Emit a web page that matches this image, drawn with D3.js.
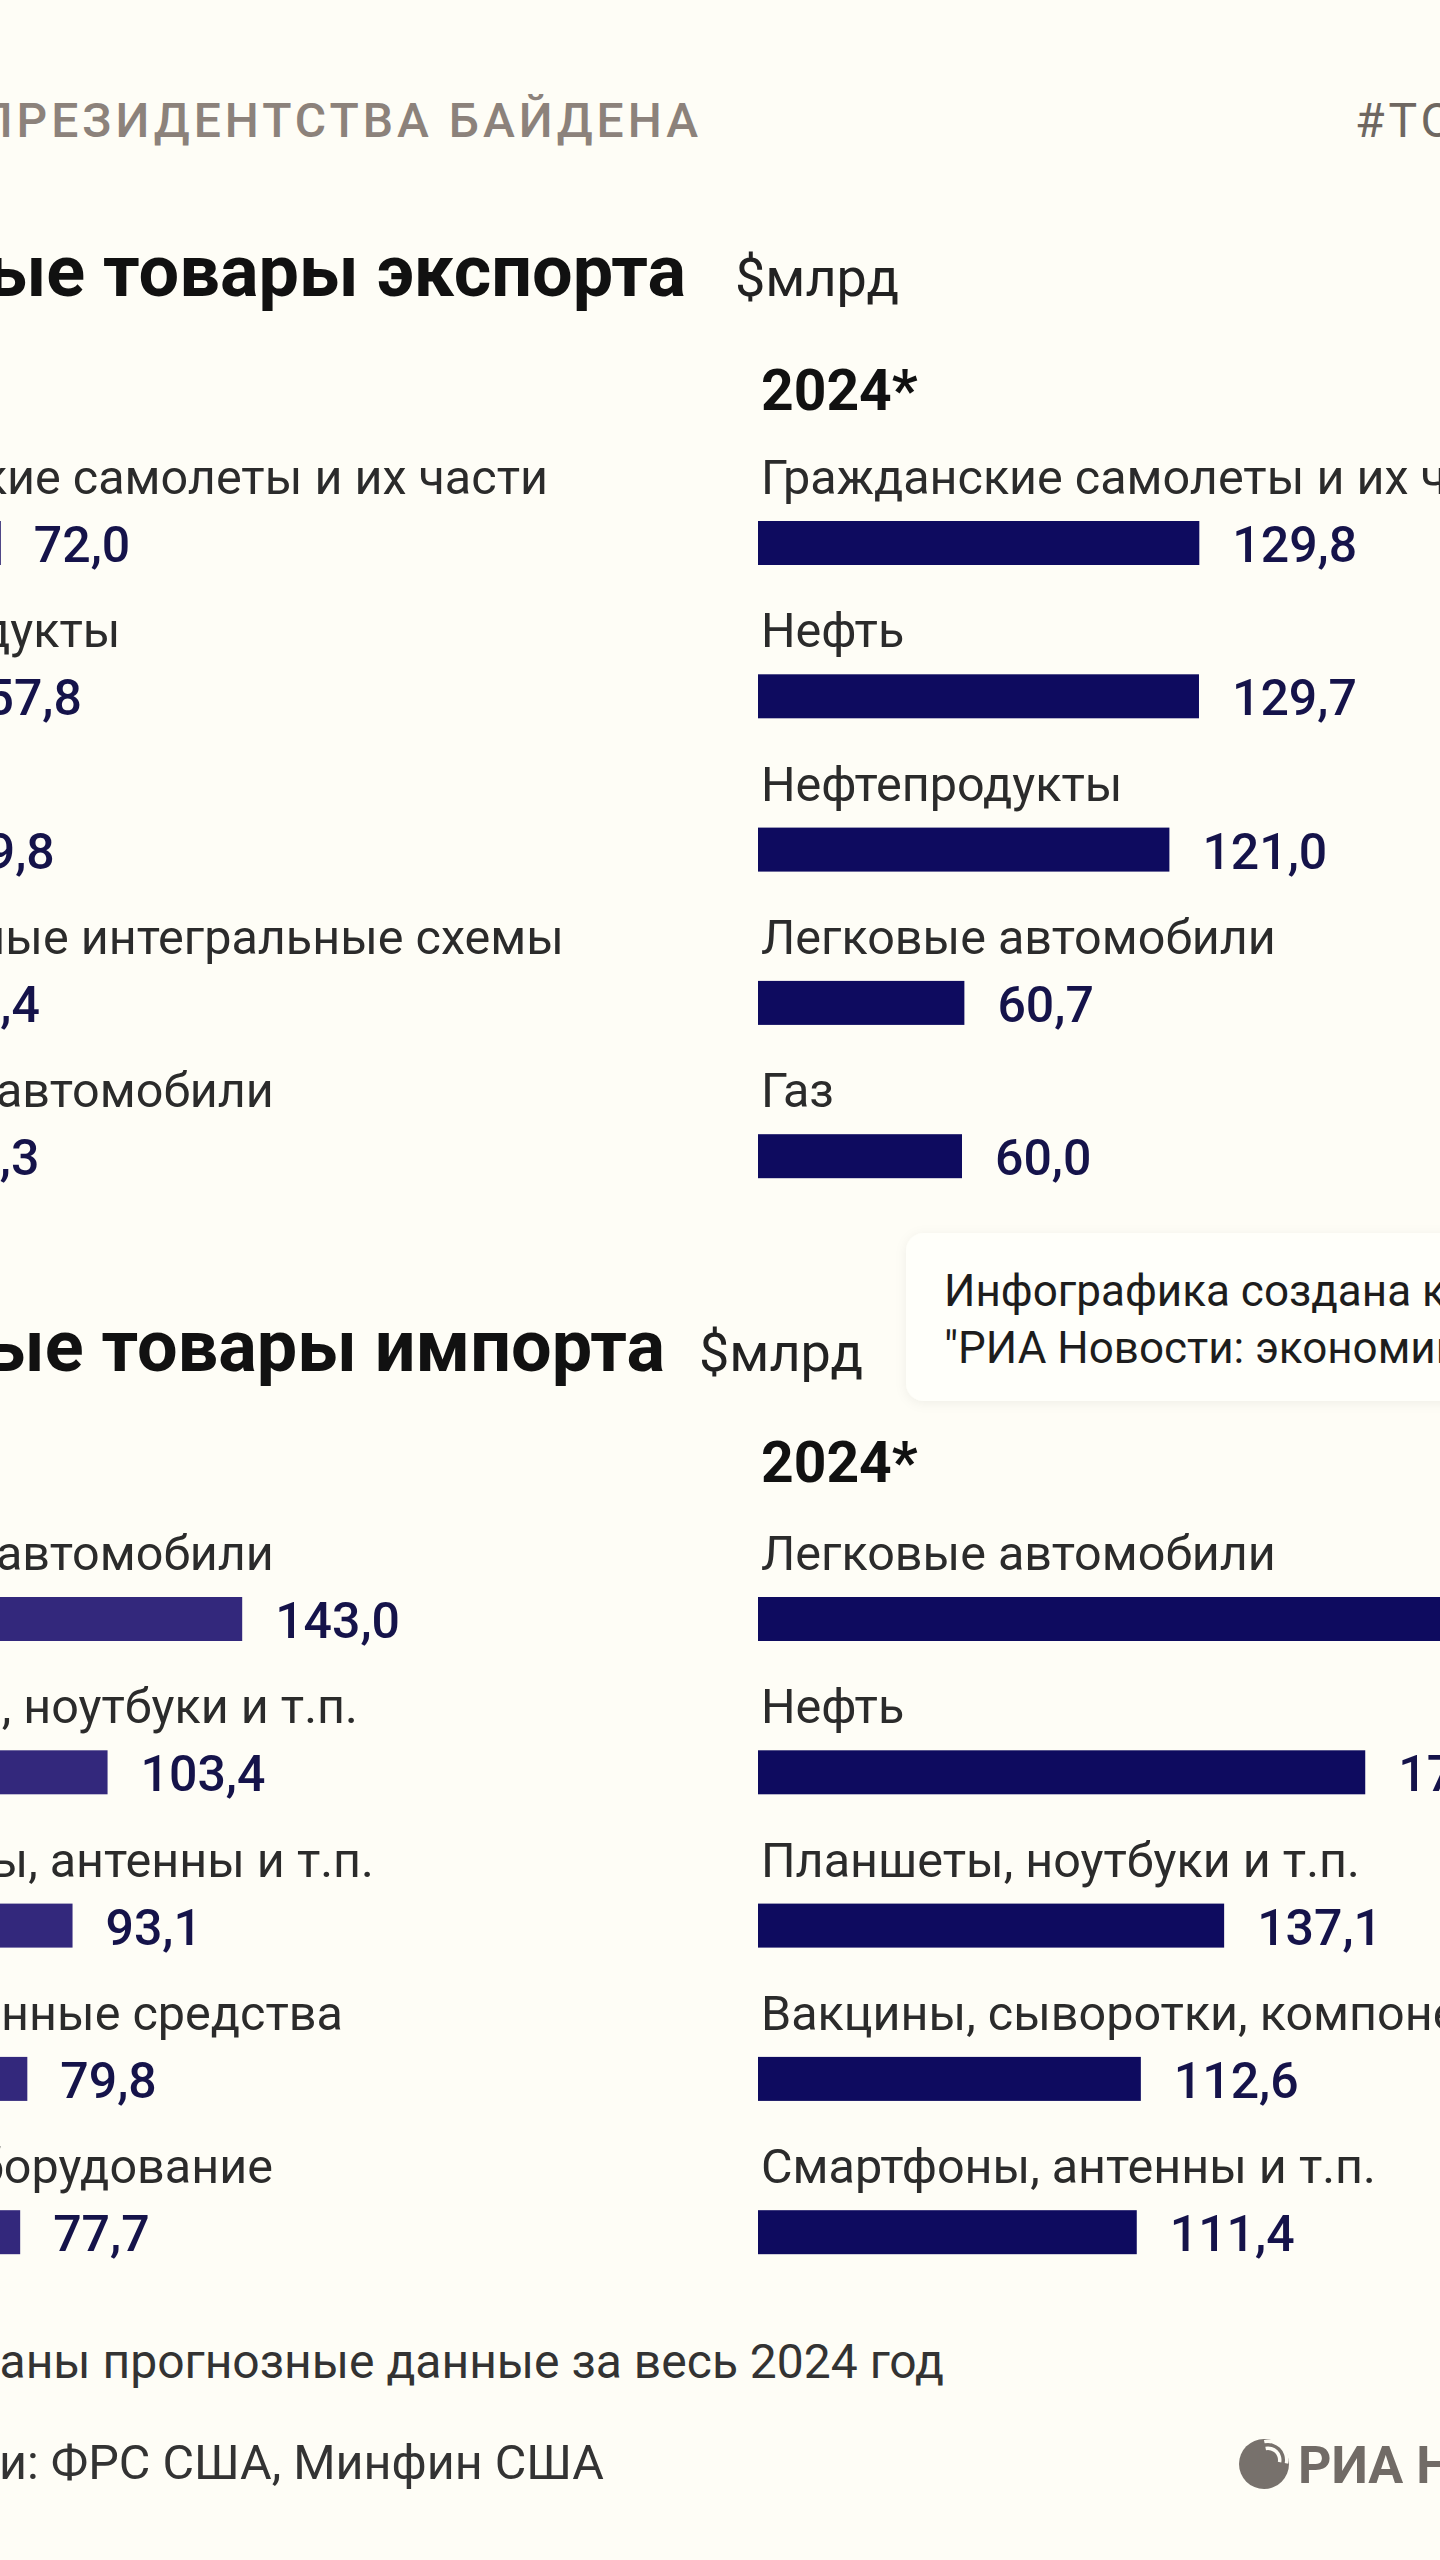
<!DOCTYPE html>
<html>
<head>
<meta charset="utf-8">
<script src="https://cdn.jsdelivr.net/npm/d3@7"></script>
<style>
  html, body { margin: 0; padding: 0; background: #fefdf6; }
  svg { display: block; font-family: Roboto, "Noto Sans", sans-serif; }
</style>
</head>
<body>
<div id="chart"></div>
<script>
// data ($ bn)
var years = ["2020", "2024*"];

var exportLabelsOld = ["Гражданские самолеты и их части", "Нефтепродукты", "Нефть", "Электронные интегральные схемы", "Легковые автомобили"];
var exportValuesOld = [72.0, 57.8, 49.8, 45.4, 45.3];
var exportLabelsNew = ["Гражданские самолеты и их части", "Нефть", "Нефтепродукты", "Легковые автомобили", "Газ"];
var exportValuesNew = [129.8, 129.7, 121.0, 60.7, 60.0];

var importLabelsOld = ["Легковые автомобили", "Планшеты, ноутбуки и т.п.", "Смартфоны, антенны и т.п.", "Лекарственные средства", "Электрооборудование"];
var importValuesOld = [143.0, 103.4, 93.1, 79.8, 77.7];
var importLabelsNew = ["Легковые автомобили", "Нефть", "Планшеты, ноутбуки и т.п.", "Вакцины, сыворотки, компоненты крови", "Смартфоны, антенны и т.п."];
var importValuesNew = [214.6, 178.6, 137.1, 112.6, 111.4];

var W = 1440, H = 2560;
var svg = d3.select("#chart").append("svg").attr("width", W).attr("height", H);
svg.append("rect").attr("width", W).attr("height", H).attr("fill", "#fefdf6");

var fmt = function(v) { return d3.format(".1f")(v).replace(".", ","); };

// columns: old year starts off the left edge
var colX = [-244, 758];
var x = d3.scaleLinear().domain([0, 100]).range([0, 340]);
var barH = 44;

// header
svg.append("text").attr("x", 702).attr("y", 137).attr("text-anchor", "end")
  .attr("font-size", 48).attr("font-weight", 500).attr("letter-spacing", 4)
  .attr("fill", "#8c827b").text("ИТОГИ ПРЕЗИДЕНТСТВА БАЙДЕНА");
svg.append("text").attr("x", 1355).attr("y", 137)
  .attr("font-size", 48).attr("font-weight", 400).attr("letter-spacing", 4)
  .attr("fill", "#6e6761").text("#ТОРГОВЛЯ");

function section(title, titleEnd, titleY, unitX, yearY, rowTop, data) {
  svg.append("text").attr("x", titleEnd).attr("y", titleY).attr("text-anchor", "end")
    .attr("font-size", 72).attr("font-weight", 700).attr("fill", "#111")
    .text(title);
  svg.append("text").attr("x", unitX).attr("y", titleY)
    .attr("font-size", 54).attr("fill", "#222").text("$млрд");

  data.forEach(function(col, ci) {
    var g = svg.append("g").attr("transform", "translate(" + colX[ci] + ",0)");
    g.append("text").attr("x", 3).attr("y", yearY)
      .attr("font-size", 57).attr("font-weight", 700).attr("fill", "#111")
      .text(years[ci]);

    var y = d3.scalePoint().domain(d3.range(col.values.length))
      .range([rowTop, rowTop + 153.3 * (col.values.length - 1)]);

    var rows = g.selectAll("g.row").data(col.values).enter().append("g").attr("class", "row");
    rows.append("text").attr("x", 3).attr("y", function(d, i) { return y(i) - 27; })
      .attr("font-size", 48.5).attr("fill", "#2b2b2b")
      .text(function(d, i) { return col.labels[i]; });
    rows.append("rect").attr("x", 0).attr("y", function(d, i) { return y(i); })
      .attr("width", function(d) { return x(d); }).attr("height", barH)
      .attr("fill", col.color);
    rows.append("text").attr("x", function(d) { return x(d) + 33; })
      .attr("y", function(d, i) { return y(i) + barH - 3; })
      .attr("font-size", 50).attr("font-weight", 500).attr("fill", "#15134a")
      .text(function(d) { return fmt(d); });
  });
}

section("Основные товары экспорта", 686, 296, 735, 410, 521, [
  { labels: exportLabelsOld, values: exportValuesOld, color: "#241a6c" },
  { labels: exportLabelsNew, values: exportValuesNew, color: "#0e0b5f" }
]);
section("Основные товары импорта", 665, 1371, 699, 1482, 1597, [
  { labels: importLabelsOld, values: importValuesOld, color: "#33287c" },
  { labels: importLabelsNew, values: importValuesNew, color: "#0e0b5f" }
]);

// info box
var defs = svg.append("defs");
var f = defs.append("filter").attr("id", "sh").attr("x", "-10%").attr("y", "-20%").attr("width", "120%").attr("height", "140%");
f.append("feDropShadow").attr("dx", 0).attr("dy", 2).attr("stdDeviation", 6)
  .attr("flood-color", "#000").attr("flood-opacity", 0.06);
svg.append("rect").attr("x", 906).attr("y", 1233).attr("width", 600).attr("height", 168)
  .attr("rx", 18).attr("fill", "#fffffa").attr("filter", "url(#sh)");
svg.append("text").attr("x", 944).attr("y", 1306).attr("font-size", 44).attr("fill", "#1d1d1d")
  .text("Инфографика создана командой");
svg.append("text").attr("x", 944).attr("y", 1363).attr("font-size", 44).attr("fill", "#1d1d1d")
  .text("\"РИА Новости: экономика\"");

// footer
svg.append("text").attr("x", 944).attr("y", 2378).attr("text-anchor", "end")
  .attr("font-size", 48).attr("fill", "#333").text("* Для 2024 года указаны прогнозные данные за весь 2024 год");
svg.append("text").attr("x", 604).attr("y", 2479).attr("text-anchor", "end")
  .attr("font-size", 48.5).attr("fill", "#333").text("Источники: ФРС США, Минфин США");

// logo
var logo = svg.append("g").attr("transform", "translate(1264,2464)");
logo.append("circle").attr("r", 25).attr("fill", "#77716c");
[10, 17, 24].forEach(function(r) {
  logo.append("path")
    .attr("d", d3.arc()({ innerRadius: r, outerRadius: r + 3.5, startAngle: -0.2, endAngle: 1.75 }))
    .attr("transform", "translate(4,-4)")
    .attr("fill", "#fefdf6");
});
svg.append("text").attr("x", 1298).attr("y", 2483).attr("font-size", 52).attr("font-weight", 700)
  .attr("fill", "#716b66").text("РИА НОВОСТИ");
</script>
</body>
</html>
